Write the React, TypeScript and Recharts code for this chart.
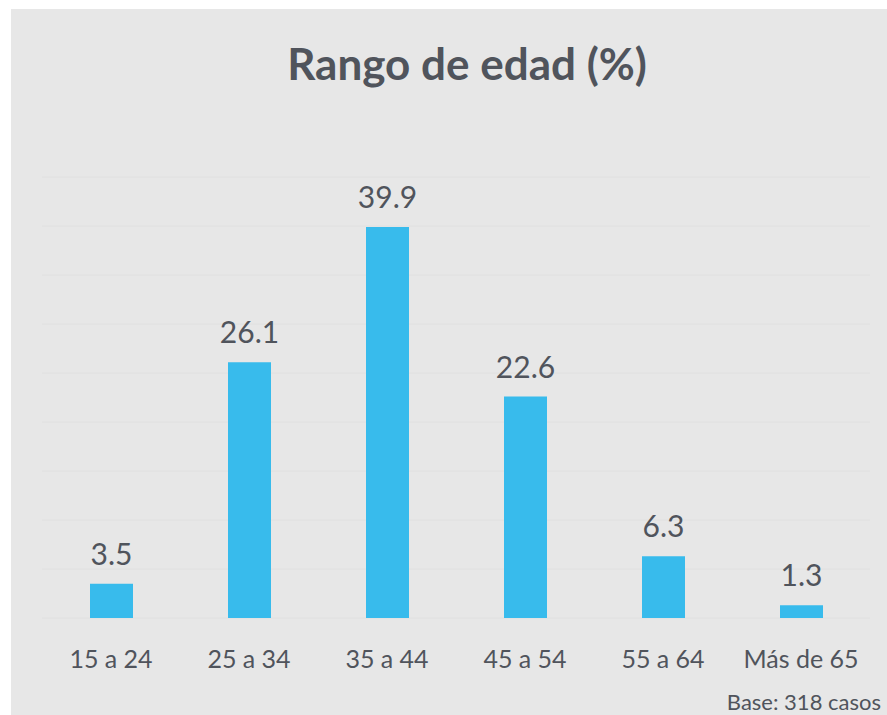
import React from "react";
import { BarChart, Bar, XAxis, YAxis, CartesianGrid, LabelList } from "recharts";

const categories = ["15 a 24", "25 a 34", "35 a 44", "45 a 54", "55 a 64", "Más de 65"];
const values = [3.5, 26.1, 39.9, 22.6, 6.3, 1.3];
const yTicks = [0, 5, 10, 15, 20, 25, 30, 35, 40, 45];
const title = "Rango de edad (%)";
const note = "Base: 318 casos";

const data = categories.map((c, i) => ({ name: c, value: values[i] }));

const TEXT = "#50545C";
const FONT = "Lato, 'Open Sans', sans-serif";

export default function App() {
  return (
    <div style={{ position: "absolute", left: 0, top: 0, width: 887, height: 715, background: "#ffffff" }}>
      <div style={{ position: "absolute", left: 11, top: 9, width: 876, height: 706, background: "#e7e7e7" }} />
      <div style={{ position: "absolute", left: 0, top: 0 }}>
        <BarChart
          width={887}
          height={715}
          data={data}
          margin={{ top: 177, right: 17, bottom: 37, left: 42 }}
        >
          <CartesianGrid vertical={false} stroke="#e0e0e0" strokeWidth={1} />
          <YAxis hide domain={[0, 45]} ticks={yTicks} />
          <XAxis
            dataKey="name"
            height={60}
            axisLine={false}
            tickLine={false}
            tickSize={6}
            tickMargin={26}
            tick={{ fill: TEXT, fontSize: 25, fontFamily: FONT }}
            interval={0}
          />
          <Bar dataKey="value" fill="#38BBEC" barSize={43} isAnimationActive={false}>
            <LabelList
              dataKey="value"
              position="top"
              offset={19}
              fill={TEXT}
              fontSize={30}
              fontFamily={FONT}
            />
          </Bar>
        </BarChart>
      </div>
      <svg
        width={887}
        height={715}
        style={{ position: "absolute", left: 0, top: 0, pointerEvents: "none" }}
      >
        <text x={467} y={80} textAnchor="middle" fill={TEXT} fontSize={44} fontWeight={700} fontFamily={FONT}>
          {title}
        </text>
        <text x={881} y={710} textAnchor="end" fill={TEXT} fontSize={22} fontFamily={FONT}>
          {note}
        </text>
      </svg>
    </div>
  );
}
